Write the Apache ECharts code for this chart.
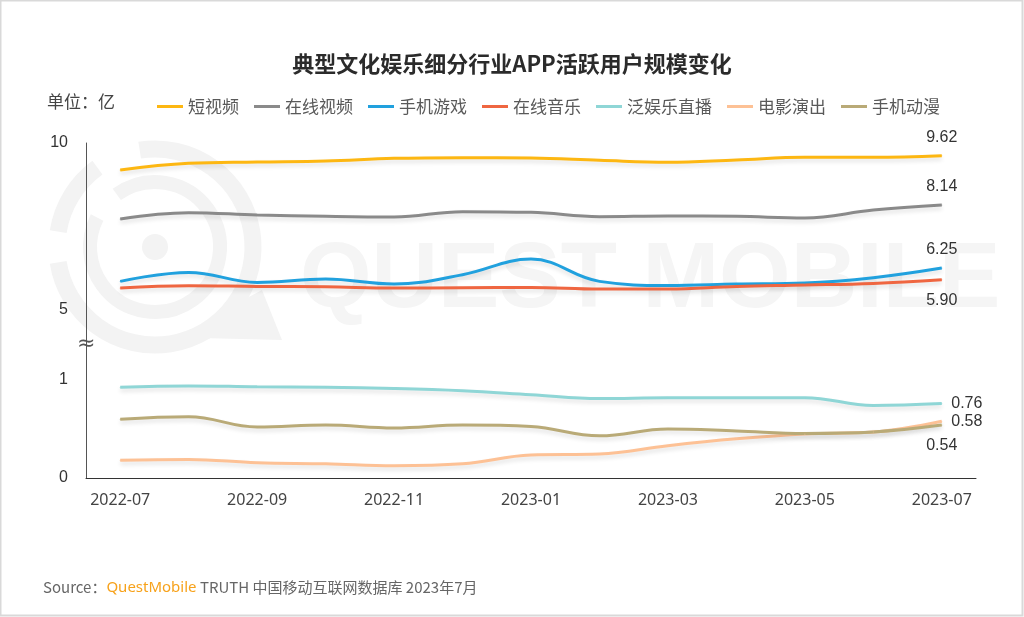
<!DOCTYPE html>
<html>
<head>
<meta charset="utf-8">
<title>典型文化娱乐细分行业APP活跃用户规模变化</title>
<script src="https://cdn.jsdelivr.net/npm/echarts@6/dist/echarts.min.js"></script>
<style>
  html, body { margin: 0; padding: 0; background: #fff; }
  #main { width: 1024px; height: 617px; }
</style>
</head>
<body>
<div id="main"></div>
<script>
// 月份
var months = ['2022-07', '2022-08', '2022-09', '2022-10', '2022-11', '2022-12', '2023-01',
  '2023-02', '2023-03', '2023-04', '2023-05', '2023-06', '2023-07'];

// 上半段（5~10亿）
var shortVideo = [9.19, 9.39, 9.43, 9.46, 9.54, 9.56, 9.55, 9.48, 9.42, 9.49, 9.57, 9.57, 9.62];
var onlineVideo = [7.72, 7.91, 7.84, 7.80, 7.78, 7.94, 7.92, 7.79, 7.81, 7.80, 7.75, 7.99, 8.14];
var mobileGame = [5.85, 6.12, 5.82, 5.92, 5.77, 6.05, 6.52, 5.85, 5.73, 5.77, 5.80, 5.96, 6.25];
var onlineMusic = [5.65, 5.72, 5.70, 5.69, 5.65, 5.66, 5.67, 5.62, 5.62, 5.70, 5.74, 5.79, 5.90];

// 下半段（0~1亿）
var liveStream = [0.925, 0.94, 0.93, 0.925, 0.913, 0.89, 0.85, 0.81, 0.82, 0.82, 0.82, 0.74, 0.76];
var movieShow = [0.18, 0.19, 0.155, 0.145, 0.125, 0.145, 0.235, 0.245, 0.33, 0.40, 0.45, 0.47, 0.58];
var anime = [0.60, 0.625, 0.52, 0.54, 0.51, 0.54, 0.525, 0.43, 0.50, 0.48, 0.455, 0.47, 0.54];

// 刻度
var upperTicks = [5, 10];
var lowerTicks = [0, 1];

var chart = echarts.init(document.getElementById('main'), null, { renderer: 'canvas' });
var last = months.length - 1;

function makeSeries(name, data, color, axis, pos, dist) {
  return {
    name: name,
    type: 'line',
    xAxisIndex: axis,
    yAxisIndex: axis,
    data: data,
    smooth: 0.4,
    symbol: 'circle',
    symbolSize: 1,
    showSymbol: true,
    itemStyle: { color: color },
    lineStyle: {
      color: color,
      width: 3,
      shadowColor: 'rgba(0,0,0,0.12)',
      shadowBlur: 4,
      shadowOffsetY: 3
    },
    label: {
      show: true,
      position: pos,
      distance: dist,
      color: '#333',
      fontSize: 16,
      fontFamily: 'Liberation Sans',
      formatter: function (p) {
        return p.dataIndex === last ? p.value.toFixed(2) : '';
      }
    },
    emphasis: { disabled: true },
    z: 3
  };
}

var option = {
  backgroundColor: '#ffffff',
  animation: false,
  title: {
    text: '典型文化娱乐细分行业APP活跃用户规模变化',
    left: 'center',
    top: 48,
    textStyle: {
      fontFamily: 'Noto Sans CJK SC',
      fontSize: 22,
      fontWeight: 'bold',
      color: '#2b2b2b'
    }
  },
  legend: {
    left: 152,
    top: 93,
    icon: 'rect',
    itemWidth: 26,
    itemHeight: 3,
    itemGap: 15,
    textStyle: {
      fontFamily: 'Noto Sans CJK SC',
      fontSize: 17,
      color: '#595959'
    },
    data: ['短视频', '在线视频', '手机游戏', '在线音乐', '泛娱乐直播', '电影演出', '手机动漫']
  },
  grid: [
    { left: 86, right: 48, top: 143, height: 203.4 },
    { left: 86, right: 48, top: 345.7, height: 132.3 }
  ],
  xAxis: [
    {
      type: 'category',
      gridIndex: 0,
      data: months,
      boundaryGap: true,
      show: false
    },
    {
      type: 'category',
      gridIndex: 1,
      data: months,
      boundaryGap: true,
      axisLine: { lineStyle: { color: '#333', width: 1 } },
      axisTick: { show: false },
      axisLabel: {
        interval: 1,
        margin: 14,
        color: '#444',
        fontSize: 16,
        fontFamily: 'Noto Sans'
      }
    }
  ],
  yAxis: [
    {
      type: 'value',
      gridIndex: 0,
      min: 3.9,
      max: 10,
      axisLine: { show: true, lineStyle: { color: '#555', width: 1 } },
      axisTick: { show: false },
      splitLine: { show: false },
      axisLabel: {
        customValues: upperTicks,
        margin: 18,
        color: '#333',
        fontSize: 16,
        fontFamily: 'Liberation Sans'
      }
    },
    {
      type: 'value',
      gridIndex: 1,
      min: 0,
      max: 1.35,
      axisLine: { show: true, lineStyle: { color: '#555', width: 1 } },
      axisTick: { show: false },
      splitLine: { show: false },
      axisLabel: {
        customValues: lowerTicks,
        margin: 18,
        color: '#333',
        fontSize: 16,
        fontFamily: 'Liberation Sans'
      }
    }
  ],
  graphic: [
    // 外框
    {
      type: 'rect',
      z: -10,
      silent: true,
      shape: { x: 0.5, y: 0.5, width: 1022, height: 615 },
      style: { fill: 'none', stroke: '#d9d9d9', lineWidth: 2 }
    },
    // 水印
    {
      type: 'arc',
      z: -5,
      silent: true,
      shape: { cx: 155, cy: 247, r: 98, startAngle: -Math.PI * 0.55, endAngle: Math.PI * 0.95 },
      style: { fill: 'none', stroke: '#f3f3f3', lineWidth: 17 }
    },
    {
      type: 'arc',
      z: -5,
      silent: true,
      shape: { cx: 155, cy: 247, r: 98, startAngle: Math.PI * 1.05, endAngle: Math.PI * 1.3 },
      style: { fill: 'none', stroke: '#f3f3f3', lineWidth: 17 }
    },
    {
      type: 'arc',
      z: -5,
      silent: true,
      shape: { cx: 155, cy: 247, r: 65, startAngle: -Math.PI * 0.7, endAngle: Math.PI * 1.15 },
      style: { fill: 'none', stroke: '#f3f3f3', lineWidth: 14 }
    },
    {
      type: 'polygon',
      z: -5,
      silent: true,
      shape: { points: [[215, 315], [262, 290], [282, 340], [200, 338]] },
      style: { fill: '#f3f3f3' }
    },
    {
      type: 'circle',
      z: -5,
      silent: true,
      shape: { cx: 155, cy: 247, r: 13 },
      style: { fill: '#f3f3f3' }
    },
    {
      type: 'text',
      z: -5,
      silent: true,
      left: 300,
      top: 236,
      style: {
        text: 'QUEST MOBILE',
        fill: '#f5f5f5',
        font: 'bold 92px "Liberation Sans"'
      }
    },
    // 单位
    {
      type: 'text',
      left: 47,
      top: 93,
      style: {
        text: '单位：亿',
        fill: '#444',
        font: '17px "Noto Sans CJK SC"'
      }
    },
    // 断轴符号
    {
      type: 'text',
      left: 77,
      top: 333,
      z: 10,
      style: {
        text: '≈',
        fill: '#555',
        font: '22px "DejaVu Sans"'
      }
    },
    // 数据来源
    {
      type: 'text',
      left: 43,
      top: 580,
      style: {
        text: '{a|Source：}{b|QuestMobile}{a| TRUTH 中国移动互联网数据库 2023年7月}',
        rich: {
          a: { fill: '#666', fontSize: 15, fontFamily: 'Noto Sans CJK SC' },
          b: { fill: '#F7A21B', fontSize: 15, fontFamily: 'Noto Sans' }
        }
      }
    }
  ],
  series: [
    makeSeries('短视频', shortVideo, '#FDB712', 0, 'top', 10),
    makeSeries('在线视频', onlineVideo, '#8A8A8A', 0, 'top', 10),
    makeSeries('手机游戏', mobileGame, '#21A1DE', 0, 'top', 10),
    makeSeries('在线音乐', onlineMusic, '#EF6641', 0, 'bottom', 12),
    makeSeries('泛娱乐直播', liveStream, '#8FD6D6', 1, 'right', 9),
    makeSeries('电影演出', movieShow, '#FDC195', 1, 'right', 9),
    makeSeries('手机动漫', anime, '#B9AA77', 1, 'bottom', 12)
  ]
};

chart.setOption(option);
</script>
</body>
</html>
